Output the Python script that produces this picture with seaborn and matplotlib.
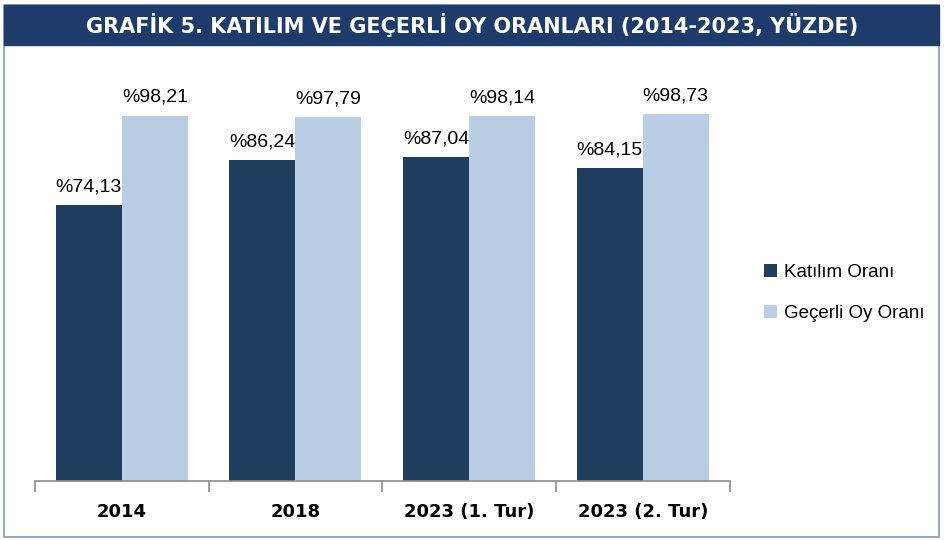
import pandas as pd
import seaborn as sns
import matplotlib.pyplot as plt
from matplotlib.patches import Rectangle

# chart data
years = ['2014', '2018', '2023 (1. Tur)', '2023 (2. Tur)']
katilim = [74.13, 86.24, 87.04, 84.15]
gecerli = [98.21, 97.79, 98.14, 98.73]
series_names = ['Katılım Oranı', 'Geçerli Oy Oranı']
title = 'GRAFİK 5. KATILIM VE GEÇERLİ OY ORANLARI (2014-2023, YÜZDE)'

dark = '#1F3D5F'
light = '#B9CDE5'
navy = '#1E3C6B'

df = pd.DataFrame({
    'yil': years * 2,
    'oran': katilim + gecerli,
    'seri': [series_names[0]] * len(years) + [series_names[1]] * len(years),
})

sns.set_theme(style='white')
plt.rcParams['font.family'] = ['Liberation Sans', 'DejaVu Sans']

fig = plt.figure(figsize=(9.45, 5.4), dpi=100)

# outer frame and title bar
fig.patches.append(Rectangle((0.004, 0.006), 0.99, 0.984, transform=fig.transFigure,
                             fill=False, edgecolor='#7E9BC0', linewidth=1.2))
fig.patches.append(Rectangle((0.004, 0.917), 0.99, 0.073, transform=fig.transFigure,
                             facecolor=navy, edgecolor=navy))
fig.text(0.5, 0.953, title, ha='center', va='center', color='white',
         fontsize=15, fontweight='bold', family=['DejaVu Sans'])

ax = fig.add_axes([0.037, 0.109, 0.735, 0.758])
sns.barplot(data=df, x='yil', y='oran', hue='seri', palette=[dark, light],
            width=0.76, gap=0, saturation=1, ax=ax, errorbar=None, legend=True,
            linewidth=0)

for cont in ax.containers:
    ax.bar_label(cont, labels=[f'%{v:.2f}'.replace('.', ',') for v in cont.datavalues],
                 padding=7, fontsize=14, color='black')

ax.set_ylim(0, 110)
ax.set_xlim(-0.5, len(years) - 0.5)
ax.set_xlabel('')
ax.set_ylabel('')
ax.set_yticks([])
for s in ['top', 'right', 'left']:
    ax.spines[s].set_visible(False)
ax.spines['bottom'].set_color('#8C8C8C')
ax.spines['bottom'].set_linewidth(1.2)

# category labels between boundary ticks
ax.set_xticks([i - 0.5 for i in range(len(years) + 1)])
ax.set_xticklabels([])
ax.tick_params(axis='x', bottom=True, length=8, width=1.2, color='#8C8C8C', direction='out')
for i, y in enumerate(years):
    ax.text(i, -0.075, y, transform=ax.get_xaxis_transform(), ha='center', va='center',
            fontsize=13, fontweight='bold', color='black', family=['DejaVu Sans'])

leg = ax.legend(loc='center left', bbox_to_anchor=(1.025, 0.46), frameon=False,
                fontsize=13.5, handlelength=0.7, handleheight=0.7, labelspacing=1.3,
                handletextpad=0.4)
for t in leg.get_texts():
    t.set_color('black')

fig.savefig('out.png', dpi=100)
